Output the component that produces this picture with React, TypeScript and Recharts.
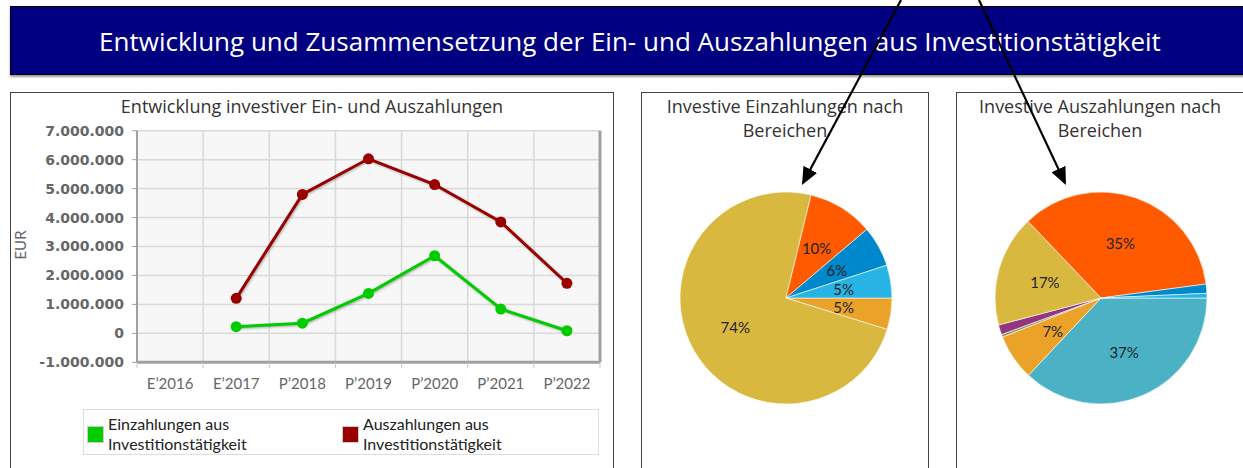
import React from "react";
import {
  CartesianGrid,
  Cell,
  Line,
  LineChart,
  Pie,
  PieChart,
  ReferenceLine,
  XAxis,
  YAxis,
} from "recharts";

// line chart
const years = ["E’2016", "E’2017", "P’2018", "P’2019", "P’2020", "P’2021", "P’2022"];
const einzahlungen = [null, 230000, 350000, 1380000, 2680000, 840000, 90000];
const auszahlungen = [null, 1210000, 4800000, 6030000, 5140000, 3850000, 1730000];
const yTicks = [-1000000, 0, 1000000, 2000000, 3000000, 4000000, 5000000, 6000000, 7000000];
const seriesNames = ["Einzahlungen aus Investitionstätigkeit", "Auszahlungen aus Investitionstätigkeit"];
const seriesColors = ["#00cc00", "#990000"];

// pies (shares in %)
const einBereiche = ["Bereich 1", "Bereich 2", "Bereich 3", "Bereich 4", "Bereich 5"];
const einAnteile = [4.8, 74.0, 10.0, 6.2, 5.0];
const einFarben = ["#eba229", "#d9b840", "#ff5a00", "#0088cc", "#27b4e4"];

const ausBereiche = ["Bereich 1", "Bereich 2", "Bereich 3", "Bereich 4", "Bereich 5", "Bereich 6", "Bereich 7", "Bereich 8"];
const ausAnteile = [37, 7, 0.4, 1.5, 17, 35, 1.4, 0.7];
const ausFarben = ["#4bb2c6", "#eba229", "#8d9a5a", "#93367f", "#d9b840", "#ff5a00", "#0088cc", "#27b4e4"];

const lineData = years.map((year, i) => ({ year, ein: einzahlungen[i], aus: auszahlungen[i] }));
const einData = einBereiche.map((name, i) => ({ name, value: einAnteile[i] }));
const ausData = ausBereiche.map((name, i) => ({ name, value: ausAnteile[i] }));

const fmt = (v: number) => String(v).replace(/\B(?=(\d{3})+(?!\d))/g, ".");
const RAD = Math.PI / 180;
const FONT = "'Open Sans', sans-serif";
const FONT_NARROW = "Lato, sans-serif";
const TICK_GAP = 16;

// category label + tick marks on the band boundaries
function YearTick({ x, y, payload, index, visibleTicksCount }: any) {
  const half = payload.offset || 0;
  const axisY = y - TICK_GAP;
  return (
    <g>
      <line x1={x - half} y1={axisY} x2={x - half} y2={axisY + 6} stroke="#c8c8c8" />
      {index === visibleTicksCount - 1 && <line x1={x + half} y1={axisY} x2={x + half} y2={axisY + 6} stroke="#c8c8c8" />}
      <text x={x} y={y} dy="0.71em" textAnchor="middle" fill="#666" fontSize={15} fontFamily={FONT_NARROW}>
        {payload.value}
      </text>
    </g>
  );
}

function pctLabel({ cx, cy, midAngle, outerRadius, percent }: any) {
  if (percent < 0.04) return null;
  const r = outerRadius * 0.55;
  const x = cx + r * Math.cos(-midAngle * RAD);
  const y = cy + r * Math.sin(-midAngle * RAD);
  return (
    <text x={x} y={y} textAnchor="middle" dominantBaseline="central" fontSize={15} fill="#222" fontFamily={FONT_NARROW}>
      {Math.round(percent * 100)}%
    </text>
  );
}

function PiePanel({ left, title, data, colors }: { left: number; title: string[]; data: { name: string; value: number }[]; colors: string[] }) {
  return (
    <div style={{ position: "absolute", left, top: 92, width: 288, height: 400, border: "1px solid #444", boxSizing: "border-box" }}>
      <div style={{ position: "absolute", left: 0, top: 1, width: 286, textAlign: "center", fontSize: 18, lineHeight: "24px", color: "#333", fontFamily: FONT }}>
        {title.map((t) => (
          <div key={t}>{t}</div>
        ))}
      </div>
      <PieChart width={286} height={376} margin={{ top: 0, right: 0, bottom: 0, left: 0 }} style={{ position: "absolute", left: 0, top: 0 }}>
        <Pie
          data={data}
          dataKey="value"
          cx={144}
          cy={205}
          outerRadius={106}
          startAngle={0}
          endAngle={-360}
          stroke="#ffffff"
          strokeWidth={0.6}
          label={pctLabel}
          labelLine={false}
          isAnimationActive={false}
        >
          {data.map((d, i) => (
            <Cell key={d.name} fill={colors[i]} />
          ))}
        </Pie>
      </PieChart>
    </div>
  );
}

export default function App() {
  return (
    <div style={{ position: "absolute", left: 0, top: 0, width: 1243, height: 468, overflow: "hidden", background: "#fff", fontFamily: FONT }}>
      <style>{`.ln { filter: drop-shadow(1px 1px 1px rgba(0,0,0,0.3)); }`}</style>
      {/* header */}
      <div
        style={{
          position: "absolute",
          left: 10,
          top: 6,
          width: 1240,
          height: 69,
          boxSizing: "border-box",
          background: "#000080",
          border: "1px solid #000",
          boxShadow: "0 2px 2px #999",
          color: "#fff",
          fontSize: 26,
          lineHeight: "69px",
          textAlign: "center",
        }}
      >
        Entwicklung und Zusammensetzung der Ein- und Auszahlungen aus Investitionstätigkeit
      </div>

      {/* left panel */}
      <div style={{ position: "absolute", left: 10, top: 92, width: 604, height: 400, border: "1px solid #444", boxSizing: "border-box" }} />
      <div style={{ position: "absolute", left: 10, top: 95, width: 604, textAlign: "center", fontSize: 18, lineHeight: "22px", color: "#333" }}>
        Entwicklung investiver Ein- und Auszahlungen
      </div>
      <div style={{ position: "absolute", left: 0, top: 235, width: 40, height: 20, textAlign: "center", fontSize: 15, lineHeight: "20px", color: "#666", fontFamily: FONT_NARROW, transform: "rotate(-90deg)" }}>
        EUR
      </div>
      <LineChart
        width={620}
        height={468}
        data={lineData}
        margin={{ top: 130.7, right: 20, bottom: 75.7, left: 37 }}
        style={{ position: "absolute", left: 0, top: 0 }}
      >
        <CartesianGrid
          stroke="#d9d9d9"
          fill="#f7f7f7"
          strokeWidth={1.5}
          verticalCoordinatesGenerator={({ offset }: any) =>
            [...years.map((_, i) => i), years.length].map((i) => offset.left + (i * offset.width) / years.length)
          }
        />
        <XAxis
          dataKey="year"
          scale="band"
          interval={0}
          tickSize={0}
          tickMargin={TICK_GAP}
          tick={<YearTick />}
          axisLine={{ stroke: "#a0a0a0", strokeWidth: 3 }}
          height={30}
        />
        <YAxis
          domain={[-1000000, 7000000]}
          ticks={yTicks}
          tickFormatter={fmt}
          width={100}
          tickSize={5}
          tickMargin={8}
          tick={{ fill: "#666", fontSize: 14, fontWeight: "bold", fontFamily: "'DejaVu Sans', sans-serif" }}
          tickLine={{ stroke: "#a0a0a0" }}
          axisLine={{ stroke: "#a0a0a0", strokeWidth: 2 }}
        />
        <ReferenceLine x={years[years.length - 1]} position="end" stroke="#a0a0a0" strokeWidth={3} />
        <Line
          className="ln"
          dataKey="ein"
          name={seriesNames[0]}
          stroke={seriesColors[0]}
          strokeWidth={3}
          dot={{ r: 5.5, fill: seriesColors[0], stroke: "none" }}
          isAnimationActive={false}
        />
        <Line
          className="ln"
          dataKey="aus"
          name={seriesNames[1]}
          stroke={seriesColors[1]}
          strokeWidth={3}
          dot={{ r: 5.5, fill: seriesColors[1], stroke: "none" }}
          isAnimationActive={false}
        />
      </LineChart>

      {/* legend */}
      <div style={{ position: "absolute", left: 83, top: 409, width: 516, height: 46, border: "1px solid #ddd", boxSizing: "border-box", background: "#fff", fontFamily: FONT_NARROW }}>
        {seriesNames.map((n, i) => (
          <div key={n} style={{ position: "absolute", left: i === 0 ? 3 : 258, top: 4, display: "flex", alignItems: "center" }}>
            <div style={{ width: 15, height: 15, background: seriesColors[i], border: "1px solid #ccc", marginRight: 4 }} />
            <div style={{ width: 150, fontSize: 16, lineHeight: "20px", color: "#222" }}>{n}</div>
          </div>
        ))}
      </div>

      <PiePanel left={641} title={["Investive Einzahlungen nach", "Bereichen"]} data={einData} colors={einFarben} />
      <PiePanel left={956} title={["Investive Auszahlungen nach", "Bereichen"]} data={ausData} colors={ausFarben} />

      {/* annotation arrows */}
      <svg width={1243} height={468} style={{ position: "absolute", left: 0, top: 0, pointerEvents: "none" }}>
        <defs>
          <marker id="ah" markerWidth="8" markerHeight="7" refX="7" refY="3.5" orient="auto" markerUnits="strokeWidth">
            <path d="M0,0 L8,3.5 L0,7 z" fill="#000" />
          </marker>
        </defs>
        <line x1={901} y1={0} x2={803} y2={183} stroke="#000" strokeWidth={2.2} markerEnd="url(#ah)" />
        <line x1={979} y1={0} x2={1065} y2={183} stroke="#000" strokeWidth={2.2} markerEnd="url(#ah)" />
      </svg>
    </div>
  );
}
